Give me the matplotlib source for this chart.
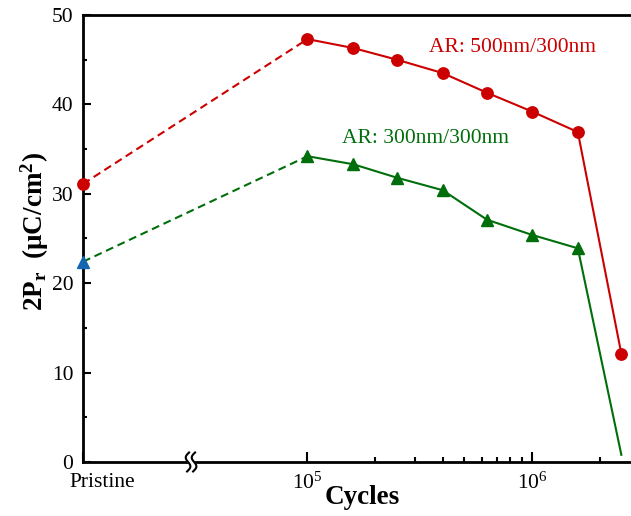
import numpy as np
import matplotlib
matplotlib.use("Agg")
import matplotlib.pyplot as plt
from matplotlib.transforms import ScaledTranslation
from matplotlib.ticker import FixedLocator, FixedFormatter, NullFormatter

plt.rcParams["font.family"] = ["Liberation Serif", "DejaVu Serif"]
plt.rcParams["mathtext.fontset"] = "custom"
plt.rcParams["mathtext.rm"] = "Liberation Serif"
plt.rcParams["mathtext.it"] = "Liberation Serif:italic"
plt.rcParams["mathtext.bf"] = "Liberation Serif:bold"

# ---- data -------------------------------------------------------------
PRISTINE = 1e4                      # where the pristine state sits on the cycles axis
cycles = [1e5, 1.6e5, 2.5e5, 4e5, 6.3e5, 1e6, 1.6e6]

pr_500_pristine = 31.1
pr_500 = [47.3, 46.3, 45.0, 43.5, 41.3, 39.2, 36.9]
pr_500_end_cycles = 2.5e6
pr_500_end = 12.1

pr_300_pristine = 22.4
pr_300 = [34.2, 33.3, 31.8, 30.4, 27.1, 25.4, 23.9]
pr_300_end_cycles = 2.5e6
pr_300_end = 0.8

x_major = [PRISTINE, 1e5, 1e6]
x_major_labels = ["Pristine", r"$10^5$", r"$10^6$"]
x_minor = [2e5, 3e5, 4e5, 5e5, 6e5, 7e5, 8e5, 9e5, 2e6]
x_break = 3.03e4

label_500 = "AR: 500nm/300nm"
label_300 = "AR: 300nm/300nm"

RED = "#cc0000"
GREEN = "#006e0a"
BLUE = "#1466b0"

FS = 15.5

# ---- figure -----------------------------------------------------------
fig = plt.figure(figsize=(6.31, 5.16), dpi=100)
ax = fig.add_axes([0.1315, 0.1047, 0.8685, 0.8663])
ax.set_xscale("log")
ax.set_xlim(PRISTINE, 2.76e6)
ax.set_ylim(0, 50)

lw = 1.5
dash = (0, (3.8, 2.3))

# 500nm/300nm series
ax.plot([PRISTINE, cycles[0]], [pr_500_pristine, pr_500[0]], color=RED, lw=lw,
        linestyle=dash, clip_on=False, zorder=3)
ax.plot(cycles + [pr_500_end_cycles], pr_500 + [pr_500_end], color=RED, lw=lw,
        marker="o", ms=8.2, clip_on=False, zorder=4)
ax.plot([PRISTINE], [pr_500_pristine], color=RED, marker="o", ms=8.2,
        clip_on=False, zorder=5)

# 300nm/300nm series
ax.plot([PRISTINE, cycles[0]], [pr_300_pristine, pr_300[0]], color=GREEN, lw=lw,
        linestyle=dash, clip_on=False, zorder=3)
ax.plot(cycles + [pr_300_end_cycles], pr_300 + [pr_300_end], color=GREEN, lw=lw,
        marker="^", ms=8.4, markevery=list(range(len(cycles))),
        clip_on=False, zorder=4)
ax.plot([PRISTINE], [pr_300_pristine], color=BLUE, marker="^", ms=8.4,
        clip_on=False, zorder=5)

ax.text(3.47e5, 45.9, label_500, color=RED, fontsize=FS, ha="left", va="baseline")
ax.text(1.42e5, 35.65, label_300, color=GREEN, fontsize=FS, ha="left", va="baseline")

# ---- axes styling -------------------------------------------------------
for side in ("left", "bottom", "top"):
    ax.spines[side].set_linewidth(2.0)
ax.spines["right"].set_visible(False)

ax.xaxis.set_major_locator(FixedLocator(x_major))
ax.xaxis.set_major_formatter(FixedFormatter(x_major_labels))
ax.xaxis.set_minor_locator(FixedLocator(x_minor))
ax.xaxis.set_minor_formatter(NullFormatter())
ax.set_yticks(np.arange(0, 51, 10))
ax.set_yticks(np.arange(5, 50, 10), minor=True)

ax.tick_params(axis="both", which="both", direction="in", top=False, right=False,
               labelsize=FS, width=1.5)
ax.tick_params(axis="x", which="major", length=7, pad=8)
ax.tick_params(axis="x", which="minor", length=3.5)
ax.tick_params(axis="y", which="major", length=6, pad=7)
ax.tick_params(axis="y", which="minor", length=3)

# shift the "Pristine" label to the right of its tick
for lab in ax.get_xticklabels():
    if lab.get_text() == "Pristine":
        lab.set_transform(lab.get_transform() + ScaledTranslation(0.19, 0, fig.dpi_scale_trans))

ax.set_xlabel("Cycles", fontsize=19.5, fontweight="bold")
ax.xaxis.set_label_coords(0.51, -0.052)
ax.set_ylabel(r"$\mathbf{2P_r\ \ (\mu C/cm^2)}$", fontsize=19.5)
ax.yaxis.set_label_coords(-0.058, 0.515)

# ---- axis break mark ----------------------------------------------------
brk = fig.dpi_scale_trans + ScaledTranslation(x_break, 0, ax.transData)
t = np.linspace(0, 1, 60)
h = 0.19
ys = (t - 0.5) * h
xs = 0.028 * np.sin(2 * np.pi * t) + 0.02 * (t - 0.5)
gap = 0.06
x1 = xs - gap / 2
x2 = xs + gap / 2
ax.fill(np.concatenate([x1, x2[::-1]]), np.concatenate([ys, ys[::-1]]),
        color="white", transform=brk, clip_on=False, zorder=6)
ax.plot(x1, ys, color="black", lw=1.5, transform=brk, clip_on=False, zorder=7)
ax.plot(x2, ys, color="black", lw=1.5, transform=brk, clip_on=False, zorder=7)

fig.savefig("out.png", dpi=100)
